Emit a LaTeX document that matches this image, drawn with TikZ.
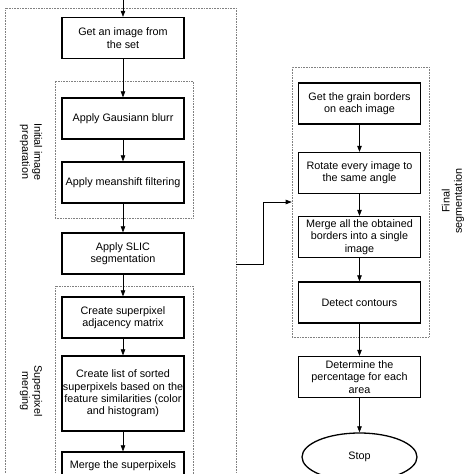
\documentclass[tikz,border=0pt]{standalone}
\usepackage{fontspec}
\setmainfont{Liberation Sans}
\usetikzlibrary{shapes.geometric, arrows.meta}

\begin{document}
\begin{tikzpicture}[x = 1pt, y = -1pt,
	stepbox/.style = {draw, line width = 1.3pt, align = center, minimum width = 122pt, minimum height = 41pt, inner sep = 1pt, font = \fontsize{10.8}{12.4}\selectfont},
	group/.style = {draw = gray, densely dotted, line width = 0.6pt, inner sep = 0pt},
	grouplabel/.style = {align = center, font = \fontsize{10.8}{12.4}\selectfont},
	arr/.style = {-{Triangle[length = 6pt, width = 4.5pt]}, line width = 0.6pt}]

	\clip (0,0) rectangle (474,474);

	\node [group, minimum width = 231pt, minimum height = 512pt] (outer) at (120.5,264) {};
	\node [group, minimum width = 138pt, minimum height = 137pt] (prep) at (124,149.5) {};
	\node [group, minimum width = 138pt, minimum height = 234pt] (merging) at (124,403) {};
	\node [group, minimum width = 137pt, minimum height = 270pt] (final) at (360.5,202) {};

	\node [grouplabel, rotate = -90] (preplabel) at (31,152) {Initial image\\preparation};
	\node [grouplabel, rotate = -90] (mergelabel) at (31,391) {Superpixel\\merging};
	\node [grouplabel, rotate = 90] (finallabel) at (453,201) {Final\\segmentation};

	\node [stepbox] (get) at (123,38) {Get an image from\\the set};
	\node [stepbox] (blur) at (123,118.5) {Apply Gausiann blurr};
	\node [stepbox] (mean) at (123,182.5) {Apply meanshift filtering};
	\node [stepbox] (slic) at (123,253.5) {Apply SLIC\\segmentation};
	\node [stepbox] (adj) at (123,317.5) {Create superpixel\\adjacency matrix};
	\node [stepbox, minimum height = 75pt] (list) at (123,393.5) {Create list of sorted\\superpixels based on the\\feature similarities (color\\and histogram)};
	\node [stepbox] (merge) at (123,472.5) {Merge the superpixels\\\strut};

	\node [stepbox] (grain) at (359.5,103.5) {Get the grain borders\\on each image};
	\node [stepbox] (rotate) at (359.5,173) {Rotate every image to\\the same angle};
	\node [stepbox] (borders) at (359.5,237) {Merge all the obtained\\borders into a single\\image};
	\node [stepbox] (contours) at (359.5,302.5) {Detect contours};
	\node [stepbox] (determine) at (359.5,377) {Determine the\\percentage for each\\area};
	\node [stepbox, ellipse, minimum width = 115pt, minimum height = 48pt] (stop) at (359.5,457) {Stop};

	\coordinate (entry) at (123,-5);
	\coordinate (jump) at (263,264);

	\draw [arr] (entry) -- (get);
	\foreach \a/\b in {get/blur, blur/mean, mean/slic, slic/adj, adj/list, list/merge, grain/rotate, rotate/borders, borders/contours, contours/determine, determine/stop}
	{
		\draw [arr] (\a) -- (\b);
	}
	\draw [arr] (outer.east |- jump) -- (jump) |- (final);
\end{tikzpicture}
\end{document}
